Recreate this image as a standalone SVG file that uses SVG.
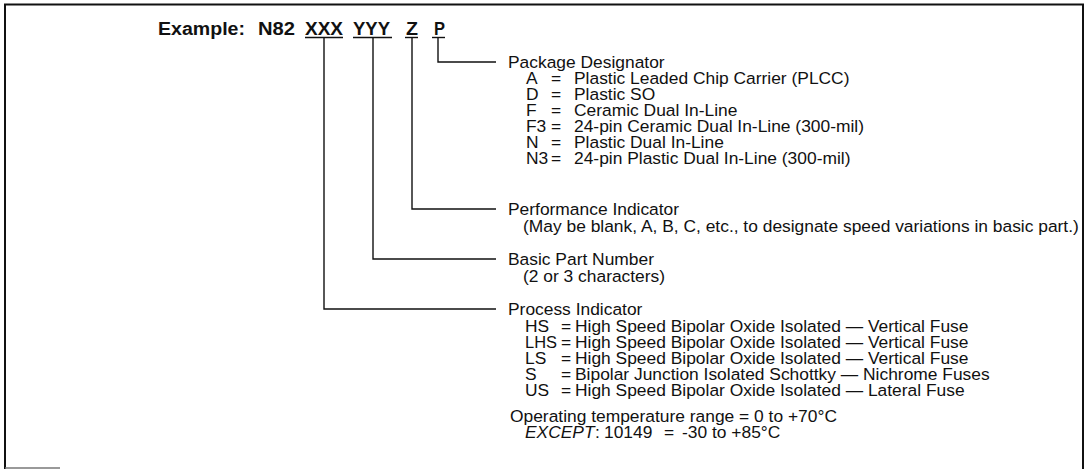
<svg xmlns="http://www.w3.org/2000/svg" width="1086" height="469" viewBox="0 0 1086 469">
<style>
.frame{fill:none;stroke:#111;stroke-width:2}
.ln{fill:none;stroke:#111;stroke-width:1.4}
.t{font-family:"Liberation Sans",Arial,Helvetica,sans-serif;font-size:17.4px;fill:#111}
.b{font-family:"Liberation Sans",Arial,Helvetica,sans-serif;font-size:18px;font-weight:bold;fill:#111}
.i{font-style:italic}
</style>
<rect width="1086" height="469" fill="#fff"/>
<g id="frame">
<path class="frame" d="M5,469 V4.5 H1083 V469"/>
<line x1="5" y1="468" x2="60" y2="468" stroke="#777" stroke-width="1.5"/>
</g>
<g id="title">
<text class="b" x="158" y="35" textLength="87" lengthAdjust="spacingAndGlyphs">Example:</text>
<text class="b" x="258" y="35" textLength="37" lengthAdjust="spacingAndGlyphs">N82</text>
<text class="b" x="305" y="35" textLength="38" lengthAdjust="spacingAndGlyphs">XXX</text>
<text class="b" x="353" y="35" textLength="37" lengthAdjust="spacingAndGlyphs">YYY</text>
<text class="b" x="406" y="35" textLength="12" lengthAdjust="spacingAndGlyphs">Z</text>
<text class="b" x="434" y="35" textLength="11" lengthAdjust="spacingAndGlyphs">P</text>
</g>
<g id="connectors">
<line class="ln" x1="305" y1="37.5" x2="343" y2="37.5"/>
<line class="ln" x1="353" y1="37.5" x2="392" y2="37.5"/>
<line class="ln" x1="405" y1="37.5" x2="418" y2="37.5"/>
<line class="ln" x1="432" y1="37.5" x2="445" y2="37.5"/>
<path class="ln" d="M438,37.5 V62 H496"/>
<path class="ln" d="M412,37.5 V209 H496"/>
<path class="ln" d="M373,37.5 V259 H496"/>
<path class="ln" d="M324,37.5 V309 H496"/>
</g>
<g id="package-designator">
<text class="t" x="508" y="68">Package Designator</text>
<text class="t" y="84"><tspan x="526">A </tspan><tspan x="551">= </tspan><tspan x="574">Plastic Leaded Chip Carrier (PLCC)</tspan></text>
<text class="t" y="100"><tspan x="526">D </tspan><tspan x="551">= </tspan><tspan x="574">Plastic SO</tspan></text>
<text class="t" y="116"><tspan x="526">F </tspan><tspan x="551">= </tspan><tspan x="574">Ceramic Dual In-Line</tspan></text>
<text class="t" y="132"><tspan x="526">F3 </tspan><tspan x="551">= </tspan><tspan x="574">24-pin Ceramic Dual In-Line (300-mil)</tspan></text>
<text class="t" y="148"><tspan x="526">N </tspan><tspan x="551">= </tspan><tspan x="574">Plastic Dual In-Line</tspan></text>
<text class="t" y="164"><tspan x="526">N3 </tspan><tspan x="551">= </tspan><tspan x="574">24-pin Plastic Dual In-Line (300-mil)</tspan></text>
</g>
<g id="performance-indicator">
<text class="t" x="508" y="215">Performance Indicator</text>
<text class="t" x="523" y="232">(May be blank, A, B, C, etc., to designate speed variations in basic part.)</text>
</g>
<g id="basic-part-number">
<text class="t" x="508" y="265">Basic Part Number</text>
<text class="t" x="523" y="282">(2 or 3 characters)</text>
</g>
<g id="process-indicator">
<text class="t" x="508" y="315">Process Indicator</text>
<text class="t" y="332"><tspan x="525">HS </tspan><tspan x="561">= </tspan><tspan x="575">High Speed Bipolar Oxide Isolated — Vertical Fuse</tspan></text>
<text class="t" y="348"><tspan x="525" textLength="32" lengthAdjust="spacingAndGlyphs">LHS</tspan><tspan x="561">= </tspan><tspan x="575">High Speed Bipolar Oxide Isolated — Vertical Fuse</tspan></text>
<text class="t" y="364"><tspan x="525">LS </tspan><tspan x="561">= </tspan><tspan x="575">High Speed Bipolar Oxide Isolated — Vertical Fuse</tspan></text>
<text class="t" y="380"><tspan x="525">S </tspan><tspan x="561">= </tspan><tspan x="575">Bipolar Junction Isolated Schottky — Nichrome Fuses</tspan></text>
<text class="t" y="396"><tspan x="525">US </tspan><tspan x="561">= </tspan><tspan x="575">High Speed Bipolar Oxide Isolated — Lateral Fuse</tspan></text>
</g>
<g id="temperature">
<text class="t" x="510" y="422">Operating temperature range = 0 to +70°C</text>
<text class="t" y="438"><tspan x="525" class="i">EXCEPT</tspan><tspan x="595">: </tspan><tspan x="604">10149 </tspan><tspan x="664">= </tspan><tspan x="682">-30 to +85°C</tspan></text>
</g>
</svg>
